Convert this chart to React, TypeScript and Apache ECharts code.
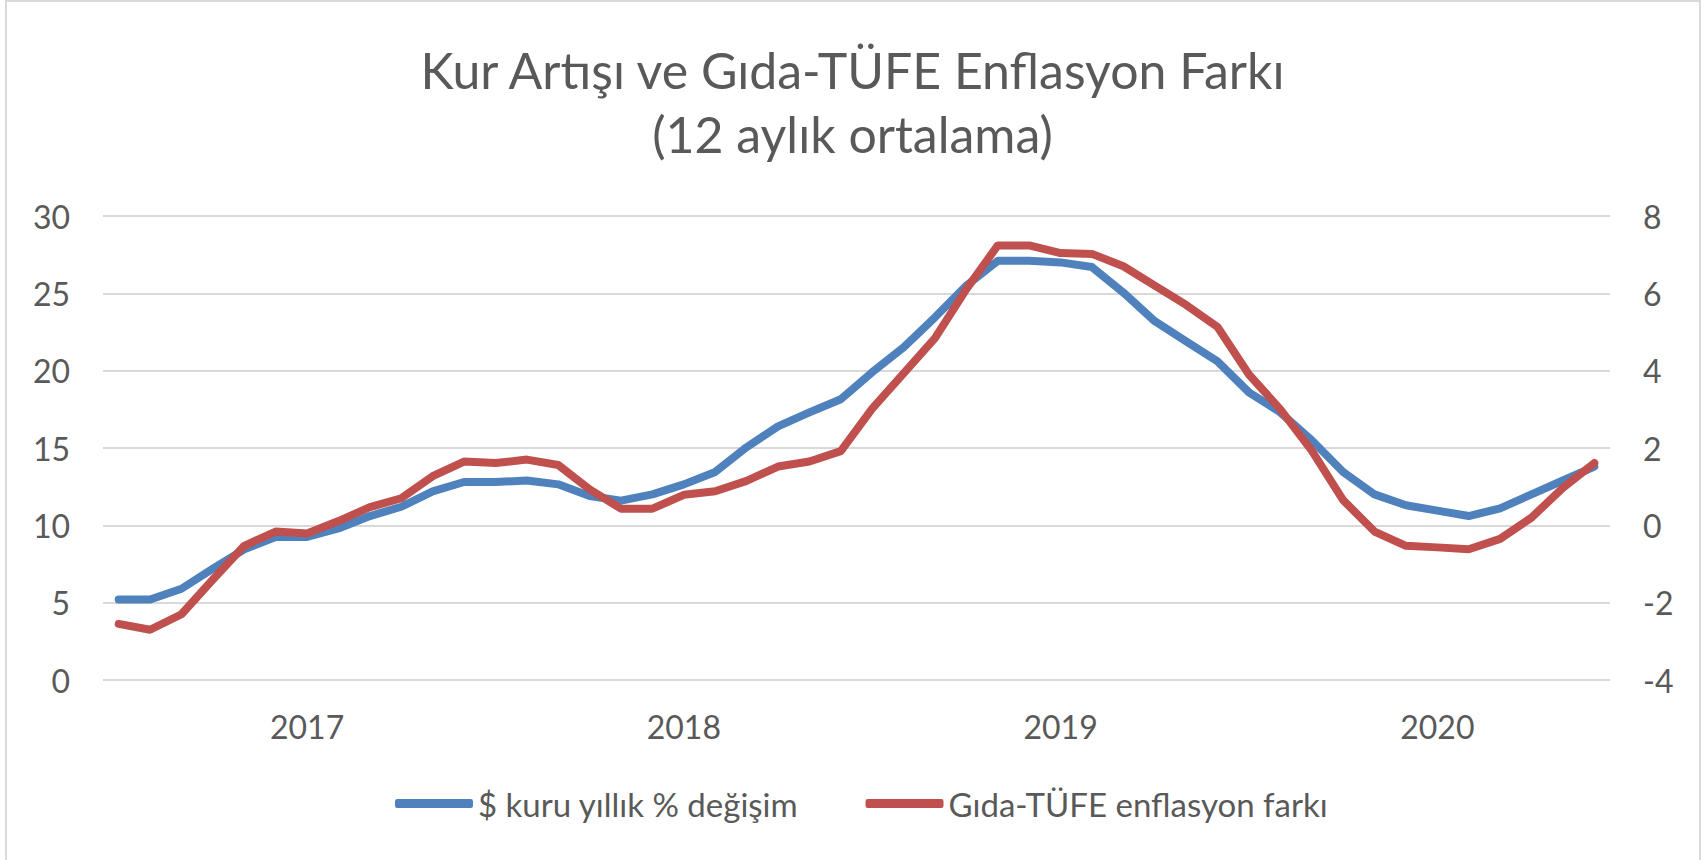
import React, { useEffect, useRef } from "react";
import * as echarts from "echarts";

const months = [
  "2016-07", "2016-08", "2016-09", "2016-10", "2016-11", "2016-12",
  "2017-01", "2017-02", "2017-03", "2017-04", "2017-05", "2017-06",
  "2017-07", "2017-08", "2017-09", "2017-10", "2017-11", "2017-12",
  "2018-01", "2018-02", "2018-03", "2018-04", "2018-05", "2018-06",
  "2018-07", "2018-08", "2018-09", "2018-10", "2018-11", "2018-12",
  "2019-01", "2019-02", "2019-03", "2019-04", "2019-05", "2019-06",
  "2019-07", "2019-08", "2019-09", "2019-10", "2019-11", "2019-12",
  "2020-01", "2020-02", "2020-03", "2020-04", "2020-05", "2020-06",
];

// $ kuru yıllık % değişim (left axis)
const kurDegisim = [
  5.2, 5.2, 5.9, 7.2, 8.45, 9.25,
  9.25, 9.8, 10.6, 11.2, 12.2, 12.8,
  12.8, 12.9, 12.65, 11.9, 11.6, 12.0,
  12.65, 13.45, 15.05, 16.4, 17.3, 18.15,
  19.9, 21.5, 23.45, 25.5, 27.1, 27.1,
  27.0, 26.7, 25.05, 23.2, 21.9, 20.6,
  18.6, 17.3, 15.5, 13.45, 12.0, 11.3,
  10.95, 10.6, 11.1, 12.0, 12.9, 13.8,
];

// Gıda-TÜFE enflasyon farkı (right axis)
const gidaFark = [
  -2.55, -2.7, -2.3, -1.4, -0.53, -0.16,
  -0.21, 0.11, 0.47, 0.7, 1.27, 1.65,
  1.61, 1.7, 1.56, 0.93, 0.43, 0.43,
  0.79, 0.88, 1.15, 1.52, 1.65, 1.92,
  3.02, 3.93, 4.84, 6.11, 7.24, 7.24,
  7.04, 7.02, 6.7, 6.2, 5.7, 5.13,
  3.9, 3.0, 1.93, 0.65, -0.16, -0.53,
  -0.57, -0.62, -0.35, 0.2, 0.97, 1.61,
];

const leftTicks = { min: 0, max: 30, interval: 5 };
const rightTicks = { min: -4, max: 8, interval: 2 };

const titleLines = ["Kur Artışı ve Gıda-TÜFE Enflasyon Farkı", "(12 aylık ortalama)"];
const seriesNames = ["$ kuru yıllık % değişim", "Gıda-TÜFE enflasyon farkı"];

const FONT = "Lato";
const TEXT = "#595959";
const BLUE = "#4F81BD";
const RED = "#C0504D";

export default function App() {
  const ref = useRef<HTMLDivElement>(null);

  useEffect(() => {
    document.body.style.margin = "0";
    const chart = echarts.init(ref.current!, null, { renderer: "svg" });
    chart.setOption({
      animation: false,
      backgroundColor: "#ffffff",
      textStyle: { fontFamily: FONT, color: TEXT },
      title: {
        text: titleLines.join("\n"),
        left: "center",
        top: 33,
        textStyle: {
          fontFamily: FONT,
          fontSize: 50,
          fontWeight: "normal",
          color: TEXT,
          lineHeight: 64,
        },
      },
      graphic: [
        {
          type: "rect",
          shape: { x: 6, y: 1, width: 1694, height: 880 },
          style: { fill: "none", stroke: "#d9d9d9", lineWidth: 2 },
          silent: true,
          z: -1,
        },
      ],
      grid: { left: 103, right: 95, top: 216, bottom: 180, containLabel: false },
      legend: {
        left: 390,
        top: 782,
        icon: "roundRect",
        itemWidth: 78,
        itemHeight: 9,
        itemGap: 67,
        textStyle: { fontFamily: FONT, fontSize: 33, color: TEXT },
        data: seriesNames,
      },
      xAxis: {
        type: "category",
        data: months,
        boundaryGap: true,
        axisLine: { show: false },
        axisTick: { show: false },
        splitLine: { show: false },
        axisLabel: {
          interval: (_i: number, v: string) => v.endsWith("-01"),
          formatter: (v: string) => v.slice(0, 4),
          margin: 30,
          fontSize: 32,
          fontFamily: FONT,
          color: TEXT,
        },
      },
      yAxis: [
        {
          type: "value",
          ...leftTicks,
          axisLine: { show: false },
          axisTick: { show: false },
          splitLine: { lineStyle: { color: "#d9d9d9", width: 2 } },
          axisLabel: { margin: 33, fontSize: 32, fontFamily: FONT, color: TEXT },
        },
        {
          type: "value",
          ...rightTicks,
          position: "right",
          axisLine: { show: false },
          axisTick: { show: false },
          splitLine: { show: false },
          axisLabel: { margin: 33, fontSize: 32, fontFamily: FONT, color: TEXT },
        },
      ],
      series: [
        {
          name: seriesNames[0],
          type: "line",
          yAxisIndex: 0,
          data: kurDegisim,
          symbol: "none",
          color: BLUE,
          lineStyle: { width: 8, color: BLUE, cap: "round", join: "round" },
          z: 2,
        },
        {
          name: seriesNames[1],
          type: "line",
          yAxisIndex: 1,
          data: gidaFark,
          symbol: "none",
          color: RED,
          lineStyle: { width: 8, color: RED, cap: "round", join: "round" },
          z: 3,
        },
      ],
    });
    return () => chart.dispose();
  }, []);

  return (
    <div
      ref={ref}
      style={{ position: "absolute", left: 0, top: 0, width: 1705, height: 860 }}
    />
  );
}
